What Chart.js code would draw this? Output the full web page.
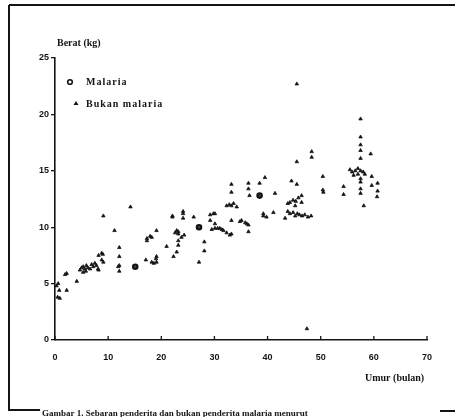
<!DOCTYPE html>
<html>
<head>
<meta charset="utf-8">
<script src="https://cdn.jsdelivr.net/npm/chart.js@4/dist/chart.umd.min.js"></script>
<style>
  html, body { margin: 0; padding: 0; background: #fff; }
  #wrap { width: 455px; height: 417px; }
</style>
</head>
<body>
<div id="wrap"><canvas id="chart" width="455" height="417"></canvas></div>
<script>
// axis ticks
const xTicks = [0, 10, 20, 30, 40, 50, 60, 70];
const yTicks = [0, 5, 10, 15, 20, 25];

// Malaria (open circles)
const malariaAge = [15.1, 27.1, 38.5];
const malariaWeight = [6.5, 10.0, 12.8];

// Bukan malaria (triangles)
const bukanAge = [
  0.5, 0.9, 0.8, 2.2, 0.6, 0.3, 1.9, 2.2, 4.1, 4.7, 5.0, 5.3, 5.6, 5.9, 6.2, 6.6, 6.9, 7.2, 7.5, 5.3,
  5.8, 8.2, 8.1, 7.8, 8.8, 9.1, 8.2, 8.8, 9.0, 9.1,
  11.2, 12.1, 12.1, 11.9, 12.1, 12.1, 14.2, 17.1, 17.3, 17.9, 18.2, 17.3, 18.2, 18.6, 19.1, 19.1, 19.1, 19.0,
  21.0, 22.1, 22.1, 22.3, 22.9, 22.9, 23.2, 23.8, 22.6, 23.2, 24.3, 23.2, 23.2, 24.1, 24.1, 24.1, 26.1, 27.1,
  28.1, 28.1, 29.2, 29.8, 30.1, 29.2, 30.1, 29.5, 30.1, 30.6, 31.0, 31.4, 31.7, 32.3, 32.9, 33.2,
  33.2, 33.2, 32.3, 32.8, 33.2, 33.6, 34.2, 33.2, 34.8, 35.1, 35.8, 36.1, 36.4, 36.4, 36.4, 36.4, 36.6, 38.5,
  39.5, 39.2, 39.2, 39.8,
  41.1, 41.4, 43.3, 43.8, 44.2, 44.8, 45.2, 45.6, 46.0, 46.5, 47.0, 47.6, 48.2, 43.8, 44.2, 44.8, 45.3, 45.8,
  46.4, 46.4, 45.2, 44.5, 45.5, 45.5, 48.3, 48.3, 45.5, 47.4,
  50.4, 50.4, 50.5, 54.3, 54.3, 55.5, 55.9, 56.5, 57.0, 57.5, 58.0, 56.2, 57.0, 58.3, 57.5, 57.5, 57.5, 57.5,
  57.5, 57.5, 57.5, 57.5, 57.5, 59.4, 59.6, 59.6, 60.7, 60.7, 60.6, 58.1
];
const bukanWeight = [
  3.8, 3.7, 4.4, 4.4, 5.0, 4.8, 5.8, 5.9, 5.2, 6.2, 6.4, 6.5, 6.3, 6.6, 6.4, 6.3, 6.7, 6.5, 6.8, 6.0,
  6.1, 6.2, 6.3, 6.6, 7.1, 6.9, 7.5, 7.7, 7.6, 11.0,
  9.7, 8.2, 7.4, 6.5, 6.6, 6.1, 11.8, 7.1, 9.0, 9.2, 9.1, 8.8, 6.9, 6.8, 6.9, 7.4, 9.7, 7.2,
  8.3, 10.9, 11.0, 7.4, 7.8, 9.7, 9.4, 9.1, 9.5, 9.6, 9.3, 8.8, 8.4, 11.4, 10.8, 11.2, 10.9, 6.9,
  8.7, 7.9, 11.1, 11.2, 11.2, 10.6, 10.3, 9.8, 9.9, 9.9, 9.9, 9.8, 9.7, 9.5, 9.3, 9.4,
  13.8, 13.1, 11.9, 12.0, 11.9, 12.1, 11.8, 10.6, 10.5, 10.6, 10.4, 10.3, 10.2, 9.6, 13.9, 13.4, 12.8, 13.9,
  14.4, 11.2, 11.0, 10.9,
  11.3, 13.0, 10.8, 11.4, 11.2, 11.3, 11.0, 11.2, 11.1, 11.0, 11.1, 10.9, 11.0, 12.1, 12.2, 12.4, 12.3, 12.6,
  12.8, 12.2, 11.9, 14.1, 13.8, 15.8, 16.7, 16.2, 22.7, 1.0,
  14.5, 13.3, 13.1, 13.6, 12.9, 15.1, 14.9, 15.0, 15.2, 15.0, 14.9, 14.6, 14.7, 14.7, 14.3, 14.0, 13.4, 13.0,
  16.1, 16.8, 17.3, 18.0, 19.6, 16.5, 14.5, 13.7, 13.9, 13.2, 12.7, 11.9
];

const ink = '#141414';
const tickFont = { family: 'Liberation Sans', size: 9, weight: 'bold' };

function pairs(xs, ys) {
  return xs.map((x, i) => ({ x: x, y: ys[i] }));
}

// frame, texts, legend and inward x ticks
const decor = {
  id: 'decor',
  afterDraw(chart) {
    const c = chart.ctx, sx = chart.scales.x, sy = chart.scales.y;
    c.save();
    c.strokeStyle = ink;
    c.lineWidth = 2;
    c.beginPath();
    c.moveTo(9, 5); c.lineTo(455, 5);
    c.moveTo(9, 5); c.lineTo(9, 410); c.lineTo(40, 410);
    c.moveTo(440, 411); c.lineTo(455, 411);
    c.stroke();

    c.lineWidth = 1.3;
    c.beginPath();
    xTicks.forEach(v => {
      const px = sx.getPixelForValue(v);
      c.moveTo(px, sy.bottom); c.lineTo(px, sy.bottom - 4);
    });
    c.stroke();

    c.fillStyle = ink;
    c.textBaseline = 'middle';
    c.font = 'bold 10px "Liberation Serif"';
    c.textAlign = 'left';
    c.fillText('Berat (kg)', 57, 43);
    c.fillText('Umur (bulan)', 365, 378);

    // legend
    const ds = chart.data.datasets;
    c.beginPath();
    c.lineWidth = 1.6;
    c.arc(70, 82, 2.3, 0, Math.PI * 2);
    c.stroke();
    c.beginPath();
    c.moveTo(76, 101); c.lineTo(78.5, 105); c.lineTo(73.5, 105); c.closePath();
    c.fill();
    c.letterSpacing = '1px';
    c.fillText(ds[0].label, 86, 82);
    c.fillText(ds[1].label, 86, 104);

    c.letterSpacing = '0px';
    c.font = 'bold 9px "Liberation Serif"';
    c.fillText('Gambar 1. Sebaran penderita dan bukan penderita malaria menurut', 42, 414, 396);
    c.restore();
  }
};

new Chart(document.getElementById('chart'), {
  type: 'scatter',
  data: {
    datasets: [
      {
        label: 'Malaria',
        data: pairs(malariaAge, malariaWeight),
        pointStyle: 'circle',
        radius: 2.2,
        borderWidth: 2.2,
        borderColor: ink,
        backgroundColor: '#444'
      },
      {
        label: 'Bukan malaria',
        data: pairs(bukanAge, bukanWeight),
        pointStyle: 'triangle',
        radius: 2,
        borderWidth: 0.8,
        borderColor: ink,
        backgroundColor: ink
      }
    ]
  },
  options: {
    responsive: false,
    animation: false,
    layout: { padding: { top: 58, right: 28, left: 0, bottom: 0 } },
    plugins: { legend: { display: false }, tooltip: { enabled: false } },
    scales: {
      x: {
        type: 'linear', min: 0, max: 70,
        afterBuildTicks: s => { s.ticks = xTicks.map(v => ({ value: v })); },
        afterFit: s => { s.height = 77; },
        ticks: { font: tickFont, color: ink, padding: 12, maxRotation: 0 },
        grid: { display: true, drawOnChartArea: false, drawTicks: false, color: ink },
        border: { color: ink, width: 1.6 }
      },
      y: {
        type: 'linear', min: 0, max: 25,
        afterBuildTicks: s => { s.ticks = yTicks.map(v => ({ value: v })); },
        afterFit: s => { s.width = 55; },
        ticks: { font: tickFont, color: ink, padding: 2 },
        grid: { display: true, drawOnChartArea: false, drawTicks: true, tickLength: 4, color: ink, lineWidth: 1.3 },
        border: { color: ink, width: 1.6 }
      }
    }
  },
  plugins: [decor]
});
</script>
</body>
</html>
